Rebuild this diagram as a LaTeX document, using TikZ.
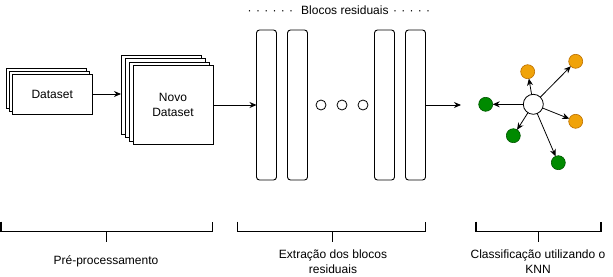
\documentclass[tikz,border=0pt]{standalone}
\usepackage{fontspec}
\setmainfont{Liberation Sans}
\usetikzlibrary{arrows.meta}
\definecolor{knnorange}{HTML}{F0A30A}
\definecolor{knnorangeline}{HTML}{BD7000}
\definecolor{knngreen}{HTML}{008A00}
\definecolor{knngreenline}{HTML}{005700}
\begin{document}
\begin{tikzpicture}[x=1pt,y=-1pt,
  every node/.style={font=\fontsize{12}{15.5}\selectfont, inner sep=0pt, outer sep=0pt},
  sheet/.style={draw, fill=white, line width=0.9pt},
  dsheet/.style={sheet, minimum width=80.5pt, minimum height=40pt},
  nsheet/.style={sheet, minimum width=80pt, minimum height=79pt, align=center},
  resblock/.style={draw, fill=white, line width=0.9pt, rounded corners=3pt, minimum width=20pt, minimum height=150pt},
  ellip/.style={draw, circle, line width=0.8pt, minimum size=10pt},
  arr/.style={line width=0.9pt, -{Stealth[length=7pt,width=6pt]}},
  knnarr/.style={line width=0.8pt, -{Stealth[length=7pt,width=6pt]}},
  hub/.style={draw, circle, fill=white, line width=0.8pt, minimum size=20pt},
  orangept/.style={draw=knnorangeline, fill=knnorange, circle, line width=0.6pt, minimum size=14pt},
  greenpt/.style={draw=knngreenline, fill=knngreen, circle, line width=0.6pt, minimum size=14pt},
  brace/.style={line width=1.3pt},
  caption/.style={align=center}
]
\useasboundingbox (0,0) rectangle (613,276);

% input dataset (stacked sheets)
\node[dsheet] (ds1) at (46.25,88) {};
\node[dsheet] (ds2) at (49.25,91) {};
\node[dsheet] (ds3) at (52.25,94) {Dataset};

% new dataset (stacked sheets)
\node[nsheet] (nd1) at (161,94.5) {};
\node[nsheet] (nd2) at (165,98) {};
\node[nsheet] (nd3) at (169,101.5) {};
\node[nsheet] (nd4) at (173,105) {Novo\\Dataset};

% residual blocks
\node[resblock] (b1) at (266.5,105) {};
\node[resblock] (b2) at (297.5,105) {};
\node[ellip] (e1) at (321,105) {};
\node[ellip] (e2) at (342,105) {};
\node[ellip] (e3) at (363,105) {};
\node[resblock] (b3) at (384.5,105) {};
\node[resblock] (b4) at (415.5,105) {};

\node (title) at (339,10) {·\hspace{4.3pt}·\hspace{4.3pt}·\hspace{4.3pt}·\hspace{4.3pt}·\hspace{4.3pt}·\hspace{8pt}Blocos residuais\hspace{4.5pt}·\hspace{4.3pt}·\hspace{4.3pt}·\hspace{4.3pt}·\hspace{4.3pt}·};

% flow arrows
\draw[arr] (ds3.east) -- (ds3.east -| nd1.west);
\draw[arr] (nd4.east) -- (b1.west);
\coordinate (knnin) at (461,105);
\draw[arr] (b4.east) -- (knnin);

% nearest neighbours
\node[hub] (q) at (533.3,104.3) {};
\node[greenpt] (g1) at (485.7,104.3) {};
\node[greenpt] (g2) at (513.3,135.7) {};
\node[greenpt] (g3) at (558.3,162.7) {};
\node[orangept] (o1) at (527.7,71.7) {};
\node[orangept] (o2) at (575.7,61.3) {};
\node[orangept] (o3) at (575.7,121.3) {};
\foreach \t in {g1,g2,g3,o1,o2,o3}
  \draw[knnarr] (q) -- (\t);

% stage brackets
\coordinate (p1l) at (1,221.7);
\coordinate (p1r) at (212.7,221.7);
\coordinate (p1m) at (106.7,231.7);
\draw[brace] (p1l) |- (p1m) -| (p1r);
\draw[brace] (p1m) -- ++(0,10);

\coordinate (p2l) at (237.3,221.7);
\coordinate (p2r) at (425.7,221.7);
\coordinate (p2m) at (332.7,231.7);
\draw[brace] (p2l) |- (p2m) -| (p2r);
\draw[brace] (p2m) -- ++(0,10);

\coordinate (p3l) at (476,221.7);
\coordinate (p3r) at (601,221.7);
\coordinate (p3m) at (538.3,231.7);
\draw[brace] (p3l) |- (p3m) -| (p3r);
\draw[brace] (p3m) -- ++(0,10);

\node[caption] (c1) at (106,261.5) {Pré-processamento};
\node[caption] (c2) at (333,261.5) {Extração dos blocos\\residuais};
\node[caption] (c3) at (538,261.5) {Classificação utilizando o\\KNN};
\end{tikzpicture}
\end{document}
